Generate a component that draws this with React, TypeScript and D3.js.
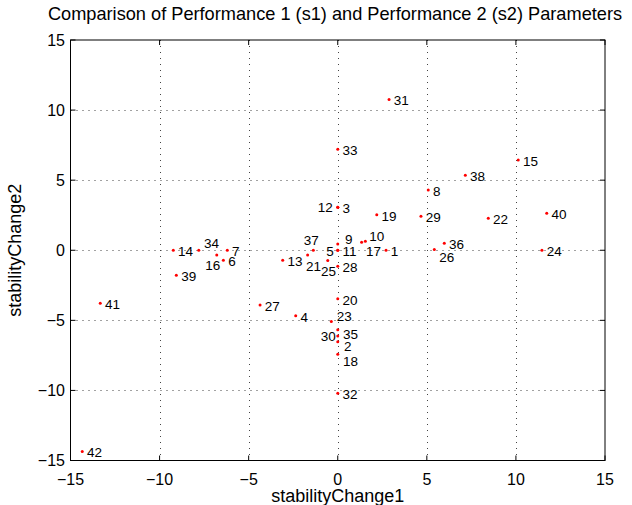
import React from "react";
import * as d3 from "d3";

const ids = [1,2,3,4,5,6,7,8,9,10,11,12,13,14,15,16,17,18,19,20,21,22,23,24,25,26,27,28,29,30,31,32,33,34,35,36,37,38,39,40,41,42];
const s1 = [2.71,0,0,-2.36,0,-6.42,-6.2,5.08,0,1.55,0,0,-3.09,-9.23,10.13,-6.79,1.34,0,2.19,0,-1.69,8.45,-0.36,11.46,-0.56,5.42,-4.36,0,4.67,0,2.88,0,0,-7.8,0,5.98,-1.37,7.16,-9.06,11.73,-13.33,-14.34];
const s2 = [0,-6.52,3.07,-4.68,0,-0.71,0,4.3,0.45,0.65,0,3.07,-0.71,0,6.44,-0.33,0.57,-7.42,2.54,-3.46,-0.33,2.29,-5.09,0,-0.74,0.05,-3.9,-1.14,2.43,-6.11,10.75,-10.2,7.2,0,-5.68,0.5,0,5.35,-1.78,2.64,-3.78,-14.36];
const xTicks = [-15,-10,-5,0,5,10,15];
const yTicks = [-15,-10,-5,0,5,10,15];
const title = "Comparison of Performance 1 (s1) and Performance 2 (s2) Parameters";
const xLabel = "stabilityChange1";
const yLabel = "stabilityChange2";

// label placement tweaks (pixels) for crowded points
const labelPlace: Record<number, { dx: number; dy: number; anchor?: string }> = {
  12: { dx: -5, dy: 0, anchor: "end" },
  5: { dx: -4, dy: 1, anchor: "end" },
  30: { dx: -2, dy: 0, anchor: "end" },
  37: { dx: -2, dy: -10, anchor: "middle" },
  34: { dx: 5.3, dy: -7.3 },
  16: { dx: -11.5, dy: 10.7 },
  17: { dx: 4.3, dy: 9 },
  10: { dx: 4, dy: -4.6 },
  21: { dx: -1.7, dy: 11 },
  25: { dx: -6.7, dy: 11 },
  26: { dx: 5, dy: 7.4 },
  23: { dx: 5.4, dy: -5 },
  35: { dx: 5.3, dy: 4.2 },
  2: { dx: 6.3, dy: 4.5 },
  18: { dx: 5.3, dy: 7 },
  9: { dx: 7.3, dy: -5.2 },
};

const W = 632, H = 505;
const L = 70.5, R = 605, T = 40, B = 460.5;
const FONT = "'Liberation Sans', Arial, Helvetica, sans-serif";

export default function App() {
  const x = d3.scaleLinear().domain([-15, 15]).range([L, R]);
  const y = d3.scaleLinear().domain([-15, 15]).range([B, T]);
  const fmt = (v: number) => (v < 0 ? "\u2212" + Math.abs(v) : String(v));
  const tl = 5;
  return (
    <svg width={W} height={H} style={{ position: "absolute", left: 0, top: 0, background: "#fff" }} fontFamily={FONT}>
      <rect x={0} y={0} width={W} height={H} fill="#fff" />
      {/* grid */}
      {xTicks.slice(1, -1).map((t) => (
        <line key={"gx" + t} x1={Math.round(x(t)) + 0.5} x2={Math.round(x(t)) + 0.5} y1={T} y2={B} stroke="#444" strokeWidth={1} strokeDasharray="1,5" />
      ))}
      {yTicks.slice(1, -1).map((t) => (
        <line key={"gy" + t} y1={Math.round(y(t)) + 0.5} y2={Math.round(y(t)) + 0.5} x1={L} x2={R} stroke="#444" strokeWidth={1} strokeDasharray="1,5" />
      ))}
      {/* ticks */}
      {xTicks.map((t) => (
        <g key={"tx" + t}>
          <line x1={x(t)} x2={x(t)} y1={B} y2={B - tl} stroke="#000" />
          <line x1={x(t)} x2={x(t)} y1={T} y2={T + tl} stroke="#000" />
          <text x={x(t)} y={485} fontSize={16} textAnchor="middle">{fmt(t)}</text>
        </g>
      ))}
      {yTicks.map((t) => (
        <g key={"ty" + t}>
          <line x1={L} x2={L + tl} y1={y(t)} y2={y(t)} stroke="#000" />
          <line x1={R} x2={R - tl} y1={y(t)} y2={y(t)} stroke="#000" />
          <text x={65} y={y(t)} dy="0.35em" fontSize={16} textAnchor="end">{fmt(t)}</text>
        </g>
      ))}
      <rect x={L} y={T} width={R - L} height={B - T} fill="none" stroke="#000" strokeWidth={1} />
      {/* points */}
      {ids.map((id, i) => {
        const p = labelPlace[id] || { dx: 4.8, dy: 1 };
        return (
          <g key={"p" + id}>
            <circle cx={x(s1[i])} cy={y(s2[i])} r={1.5} fill="#ff0000" />
            <text x={x(s1[i]) + p.dx} y={y(s2[i]) + p.dy} dy="0.36em" fontSize={13.5} textAnchor={p.anchor || "start"} fill="#000">{id}</text>
          </g>
        );
      })}
      <text x={335} y={20} fontSize={18.2} textAnchor="middle">{title}</text>
      <text x={(L + R) / 2} y={502} fontSize={18} textAnchor="middle">{xLabel}</text>
      <text transform={`translate(21,${(T + B) / 2}) rotate(-90)`} fontSize={18} textAnchor="middle">{yLabel}</text>
    </svg>
  );
}
